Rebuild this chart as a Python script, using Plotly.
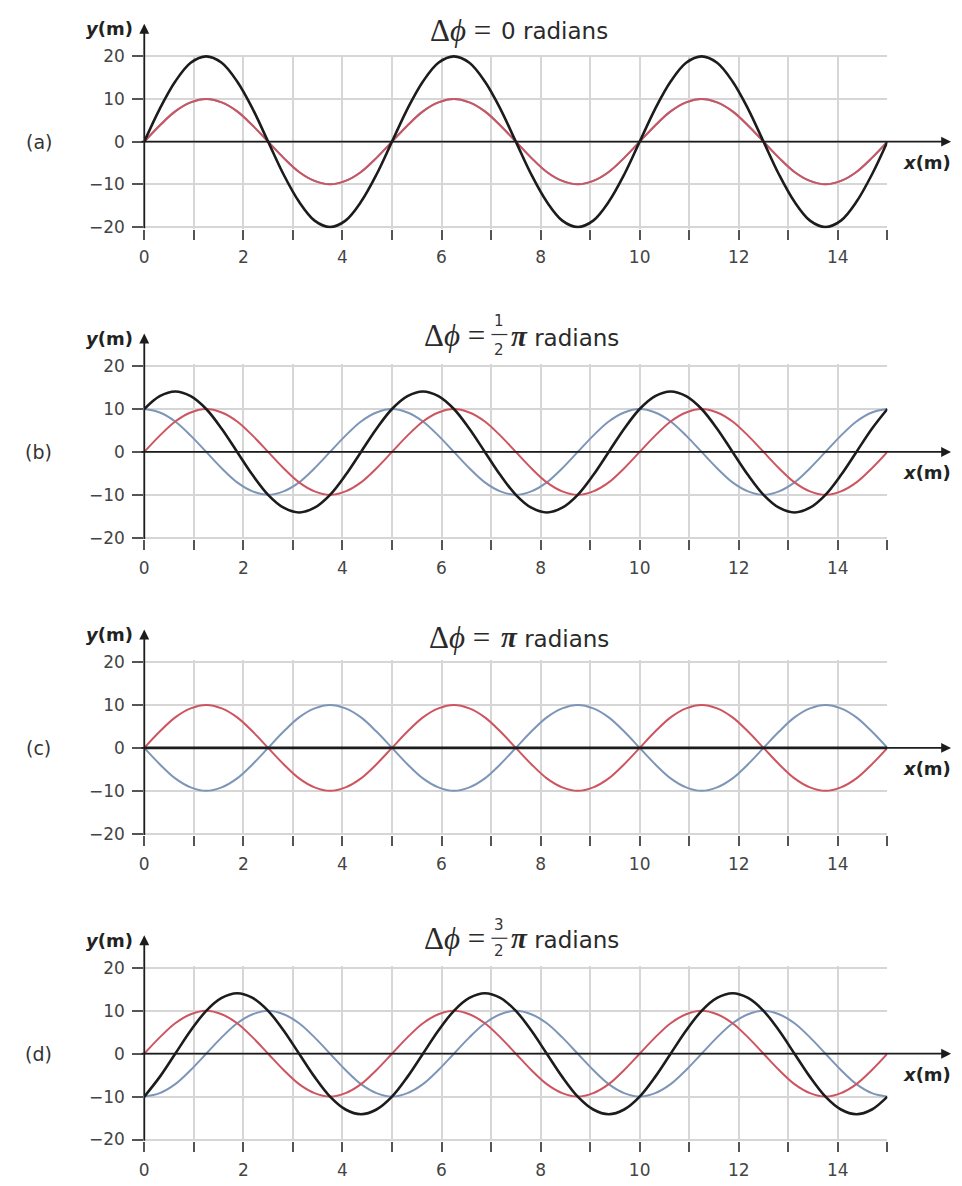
import plotly.graph_objects as go

# ---------------- data ----------------
x_m = [0, 0.3125, 0.625, 0.9375, 1.25, 1.5625, 1.875, 2.1875,
       2.5, 2.8125, 3.125, 3.4375, 3.75, 4.0625, 4.375, 4.6875,
       5, 5.3125, 5.625, 5.9375, 6.25, 6.5625, 6.875, 7.1875,
       7.5, 7.8125, 8.125, 8.4375, 8.75, 9.0625, 9.375, 9.6875,
       10, 10.3125, 10.625, 10.9375, 11.25, 11.5625, 11.875, 12.1875,
       12.5, 12.8125, 13.125, 13.4375, 13.75, 14.0625, 14.375, 14.6875,
       15]

# red wave y1 (identical in every panel)
y1_red = [0, 3.8, 7.1, 9.2, 10, 9.2, 7.1, 3.8, 0, -3.8, -7.1, -9.2, -10, -9.2, -7.1, -3.8,
          0, 3.8, 7.1, 9.2, 10, 9.2, 7.1, 3.8, 0, -3.8, -7.1, -9.2, -10, -9.2, -7.1, -3.8,
          0, 3.8, 7.1, 9.2, 10, 9.2, 7.1, 3.8, 0, -3.8, -7.1, -9.2, -10, -9.2, -7.1, -3.8,
          0]

# (a) delta phi = 0
y2_blue_a = [0, 3.8, 7.1, 9.2, 10, 9.2, 7.1, 3.8, 0, -3.8, -7.1, -9.2, -10, -9.2, -7.1, -3.8,
             0, 3.8, 7.1, 9.2, 10, 9.2, 7.1, 3.8, 0, -3.8, -7.1, -9.2, -10, -9.2, -7.1, -3.8,
             0, 3.8, 7.1, 9.2, 10, 9.2, 7.1, 3.8, 0, -3.8, -7.1, -9.2, -10, -9.2, -7.1, -3.8,
             0]
y_sum_a = [0, 7.7, 14.1, 18.5, 20, 18.5, 14.1, 7.7, 0, -7.7, -14.1, -18.5, -20, -18.5, -14.1, -7.7,
           0, 7.7, 14.1, 18.5, 20, 18.5, 14.1, 7.7, 0, -7.7, -14.1, -18.5, -20, -18.5, -14.1, -7.7,
           0, 7.7, 14.1, 18.5, 20, 18.5, 14.1, 7.7, 0, -7.7, -14.1, -18.5, -20, -18.5, -14.1, -7.7,
           0]

# (b) delta phi = pi/2
y2_blue_b = [10, 9.2, 7.1, 3.8, 0, -3.8, -7.1, -9.2, -10, -9.2, -7.1, -3.8, 0, 3.8, 7.1, 9.2,
             10, 9.2, 7.1, 3.8, 0, -3.8, -7.1, -9.2, -10, -9.2, -7.1, -3.8, 0, 3.8, 7.1, 9.2,
             10, 9.2, 7.1, 3.8, 0, -3.8, -7.1, -9.2, -10, -9.2, -7.1, -3.8, 0, 3.8, 7.1, 9.2,
             10]
y_sum_b = [10, 13.0, 14.1, 13.0, 10, 5.4, 0, -5.4, -10, -13.0, -14.1, -13.0, -10, -5.4, 0, 5.4,
           10, 13.0, 14.1, 13.0, 10, 5.4, 0, -5.4, -10, -13.0, -14.1, -13.0, -10, -5.4, 0, 5.4,
           10, 13.0, 14.1, 13.0, 10, 5.4, 0, -5.4, -10, -13.0, -14.1, -13.0, -10, -5.4, 0, 5.4,
           10]

# (c) delta phi = pi
y2_blue_c = [0, -3.8, -7.1, -9.2, -10, -9.2, -7.1, -3.8, 0, 3.8, 7.1, 9.2, 10, 9.2, 7.1, 3.8,
             0, -3.8, -7.1, -9.2, -10, -9.2, -7.1, -3.8, 0, 3.8, 7.1, 9.2, 10, 9.2, 7.1, 3.8,
             0, -3.8, -7.1, -9.2, -10, -9.2, -7.1, -3.8, 0, 3.8, 7.1, 9.2, 10, 9.2, 7.1, 3.8,
             0]
y_sum_c = [0, 0, 0, 0, 0, 0, 0, 0, 0, 0, 0, 0, 0, 0, 0, 0,
           0, 0, 0, 0, 0, 0, 0, 0, 0, 0, 0, 0, 0, 0, 0, 0,
           0, 0, 0, 0, 0, 0, 0, 0, 0, 0, 0, 0, 0, 0, 0, 0,
           0]

# (d) delta phi = 3pi/2
y2_blue_d = [-10, -9.2, -7.1, -3.8, 0, 3.8, 7.1, 9.2, 10, 9.2, 7.1, 3.8, 0, -3.8, -7.1, -9.2,
             -10, -9.2, -7.1, -3.8, 0, 3.8, 7.1, 9.2, 10, 9.2, 7.1, 3.8, 0, -3.8, -7.1, -9.2,
             -10, -9.2, -7.1, -3.8, 0, 3.8, 7.1, 9.2, 10, 9.2, 7.1, 3.8, 0, -3.8, -7.1, -9.2,
             -10]
y_sum_d = [-10, -5.4, 0, 5.4, 10, 13.0, 14.1, 13.0, 10, 5.4, 0, -5.4, -10, -13.0, -14.1, -13.0,
           -10, -5.4, 0, 5.4, 10, 13.0, 14.1, 13.0, 10, 5.4, 0, -5.4, -10, -13.0, -14.1, -13.0,
           -10, -5.4, 0, 5.4, 10, 13.0, 14.1, 13.0, 10, 5.4, 0, -5.4, -10, -13.0, -14.1, -13.0,
           -10]

panel_labels = ["(a)", "(b)", "(c)", "(d)"]
phase_text = ["0", "1/2", "", "3/2"]
x_tick_vals = [0, 1, 2, 3, 4, 5, 6, 7, 8, 9, 10, 11, 12, 13, 14, 15]
x_tick_text = ["0", "", "2", "", "4", "", "6", "", "8", "", "10", "", "12", "", "14", ""]
y_tick_vals = [-20, -10, 0, 10, 20]

blue_series = [y2_blue_a, y2_blue_b, y2_blue_c, y2_blue_d]
sum_series = [y_sum_a, y_sum_b, y_sum_c, y_sum_d]

# ---------------- layout geometry (pixels) ----------------
W, H = 962, 1186
grid_top = [49, 363, 663, 973]
grid_bot = [222, 537, 837, 1147]
x_left, x_right = 140, 887
YPAD = 0.4  # small padding so peaks at +-20 are not clipped

RED = "#cd5560"
BLUE = "#7d96b8"
BLACK = "#1c1c1c"
TICKFONT = dict(family="DejaVu Sans", size=17, color="#444444")
SERIF = "Liberation Serif"
SANS = "DejaVu Sans"
TXT = "#2a2a2a"


def px(xp):
    return xp / W


def py(yp):
    return 1 - yp / H


fig = go.Figure()
annotations = []
shapes = []

for i in range(4):
    n = "" if i == 0 else str(i + 1)
    xa, ya = "x" + n, "y" + n
    top, bot = grid_top[i], grid_bot[i]
    ppu = (bot - top) / 40.0
    d_top = top - YPAD * ppu
    d_bot = bot + YPAD * ppu
    zero = (top + bot) / 2.0

    fig.add_trace(go.Scatter(x=x_m, y=blue_series[i], mode="lines",
                             line=dict(color=BLUE, width=2, shape="spline"),
                             xaxis=xa, yaxis=ya, showlegend=False, hoverinfo="skip"))
    fig.add_trace(go.Scatter(x=x_m, y=y1_red, mode="lines",
                             line=dict(color=RED, width=2, shape="spline"),
                             xaxis=xa, yaxis=ya, showlegend=False, hoverinfo="skip"))
    fig.add_trace(go.Scatter(x=x_m, y=sum_series[i], mode="lines",
                             line=dict(color=BLACK, width=2.6, shape="spline"),
                             xaxis=xa, yaxis=ya, showlegend=False, hoverinfo="skip"))

    fig.update_layout(**{
        "xaxis" + n: dict(domain=[px(x_left), px(x_right)], range=[0, 15],
                          anchor=ya, tickmode="array", tickvals=x_tick_vals,
                          ticktext=x_tick_text, ticks="outside", ticklen=10,
                          tickwidth=1.5, tickcolor="#555555", tickfont=TICKFONT,
                          ticklabelstandoff=3,
                          showgrid=True, gridcolor="#d6d6d6", gridwidth=1.5,
                          zeroline=False, showline=False, fixedrange=True),
        "yaxis" + n: dict(domain=[py(d_bot), py(d_top)], range=[-20 - YPAD, 20 + YPAD],
                          anchor=xa, tickmode="array", tickvals=y_tick_vals,
                          ticks="outside", ticklen=11, tickwidth=1.5,
                          tickcolor="#555555", tickfont=TICKFONT, ticklabelstandoff=4,
                          showgrid=True, gridcolor="#d6d6d6", gridwidth=1.5,
                          zeroline=False, showline=False, fixedrange=True),
    })

    # y axis with arrow
    annotations.append(dict(xref="paper", yref="paper", x=px(x_left), y=py(top - 33),
                            ax=0, ay=(bot - top) + 33, axref="pixel", ayref="pixel",
                            showarrow=True, arrowhead=2, arrowsize=1.1, arrowwidth=1.8,
                            arrowcolor=BLACK, text="", standoff=0))
    # x axis with arrow
    annotations.append(dict(xref="paper", yref="paper", x=px(951), y=py(zero),
                            ax=-(951 - x_left), ay=0, axref="pixel", ayref="pixel",
                            showarrow=True, arrowhead=2, arrowsize=1.1, arrowwidth=1.8,
                            arrowcolor=BLACK, text="", standoff=0))
    # axis labels
    annotations.append(dict(xref="paper", yref="paper", x=px(131), y=py(top - 28),
                            xanchor="right", yanchor="middle", showarrow=False,
                            text="<b><i>y</i>(m)</b>",
                            font=dict(family=SANS, size=18, color="#222222")))
    annotations.append(dict(xref="paper", yref="paper", x=px(953), y=py(zero + 21),
                            xanchor="right", yanchor="middle", showarrow=False,
                            text="<b><i>x</i>(m)</b>",
                            font=dict(family=SANS, size=18, color="#222222")))
    # panel label
    annotations.append(dict(xref="paper", yref="paper", x=px(34), y=py(zero),
                            xanchor="center", yanchor="middle", showarrow=False,
                            text=panel_labels[i],
                            font=dict(family=SANS, size=19, color="#333333")))

# ---------------- titles ----------------
title_y = [23, 332, 638, 943]
lhs = "Δ<i>ϕ</i> ="
PI = "<span style='font-family:Liberation Serif;font-size:29px'><b><i>π</i></b></span>"
SERIF_SIZE = 31
SANS_SIZE = 23
# (a)
annotations.append(dict(xref="paper", yref="paper", x=px(491), y=py(title_y[0]),
                        xanchor="right", yanchor="middle", showarrow=False, text=lhs,
                        font=dict(family=SERIF, size=SERIF_SIZE, color=TXT)))
annotations.append(dict(xref="paper", yref="paper", x=px(497), y=py(title_y[0]),
                        xanchor="left", yanchor="middle", showarrow=False,
                        text=phase_text[0] + " radians",
                        font=dict(family=SANS, size=SANS_SIZE, color=TXT)))
# (c)
annotations.append(dict(xref="paper", yref="paper", x=px(490), y=py(title_y[2]),
                        xanchor="right", yanchor="middle", showarrow=False, text=lhs,
                        font=dict(family=SERIF, size=SERIF_SIZE, color=TXT)))
annotations.append(dict(xref="paper", yref="paper", x=px(497), y=py(title_y[2]),
                        xanchor="left", yanchor="middle", showarrow=False,
                        text=PI + " radians",
                        font=dict(family=SANS, size=SANS_SIZE, color=TXT)))
# (b) and (d) with stacked fractions
frac_pos = {1: (317, 331, 347), 3: (930, 943, 956)}
for i in (1, 3):
    num, den = phase_text[i].split("/")
    y_num, y_bar, y_den = frac_pos[i]
    annotations.append(dict(xref="paper", yref="paper", x=px(485), y=py(title_y[i]),
                            xanchor="right", yanchor="middle", showarrow=False, text=lhs,
                            font=dict(family=SERIF, size=SERIF_SIZE, color=TXT)))
    annotations.append(dict(xref="paper", yref="paper", x=px(497), y=py(y_num),
                            xanchor="center", yanchor="middle", showarrow=False, text=num,
                            font=dict(family=SANS, size=15, color="#333333")))
    annotations.append(dict(xref="paper", yref="paper", x=px(497), y=py(y_den),
                            xanchor="center", yanchor="middle", showarrow=False, text=den,
                            font=dict(family=SANS, size=15, color="#333333")))
    shapes.append(dict(type="line", xref="paper", yref="paper",
                       x0=px(489), x1=px(505), y0=py(y_bar), y1=py(y_bar),
                       line=dict(color="#333333", width=1.2)))
    annotations.append(dict(xref="paper", yref="paper", x=px(507), y=py(title_y[i]),
                            xanchor="left", yanchor="middle", showarrow=False,
                            text=PI + " radians",
                            font=dict(family=SANS, size=SANS_SIZE, color=TXT)))

fig.update_layout(width=W, height=H, margin=dict(l=0, r=0, t=0, b=0),
                  paper_bgcolor="white", plot_bgcolor="white",
                  annotations=annotations, shapes=shapes, showlegend=False)

fig.write_html("out.html", config={"displayModeBar": False},
               post_script="document.body.style.margin='0px';")
